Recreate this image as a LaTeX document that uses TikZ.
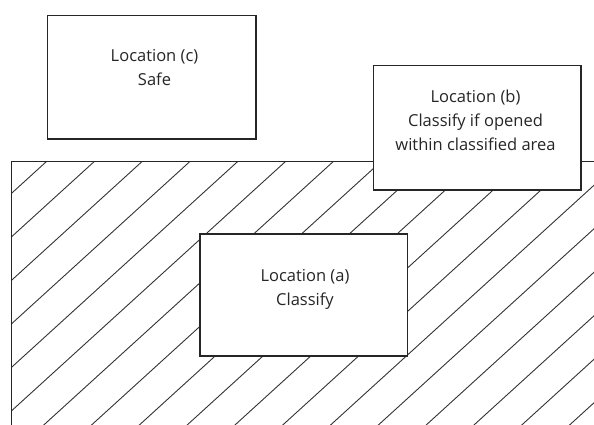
\documentclass[tikz,border=0pt]{standalone}
\usepackage{fontspec}
\setmainfont{Open Sans}
\begin{document}
\begin{tikzpicture}[x=1pt,y=-1pt,
  boxst/.style={draw=black!85, line width=1.3pt, fill=white, rectangle, inner sep=0pt},
  txt/.style={font=\fontsize{16.5}{24}\selectfont, text=black!85, align=center, inner sep=0pt, anchor=base},
  hatchst/.style={draw=black!80, line width=0.9pt},
  borderst/.style={draw=black!85, line width=1.3pt}]
\useasboundingbox (0,0) rectangle (594,424);
\coordinate (corner) at (11.7,161.7);
\coordinate (farend) at (610,440);
% hatched classified area
\begin{scope}
  \clip (corner) rectangle (farend);
  \foreach \k in {0,...,18}{
    \pgfmathsetmacro\cc{203.8+43.5*\k}
    \draw[hatchst] (0,\cc) -- (640,\cc-582.4);
  }
\end{scope}
\draw[borderst] (corner |- farend) -- (corner) -- (corner -| farend);
% boxes
\node[boxst, minimum width=208.7pt, minimum height=123.3pt] (c) at (151.7,77.4) {};
\node[boxst, minimum width=207.7pt, minimum height=124.3pt] (b) at (477.2,127.9) {};
\node[boxst, minimum width=207.7pt, minimum height=122pt] (a) at (303.8,295) {};
% texts (base anchor = baseline of last line)
\node[txt] (ct) at (154.5,85) {Location (c)\\Safe};
\node[txt] (bt) at (475.5,150.5) {Location (b)\\Classify if opened\\within classified area};
\node[txt] (at) at (305,305) {Location (a)\\Classify};
\end{tikzpicture}
\end{document}
